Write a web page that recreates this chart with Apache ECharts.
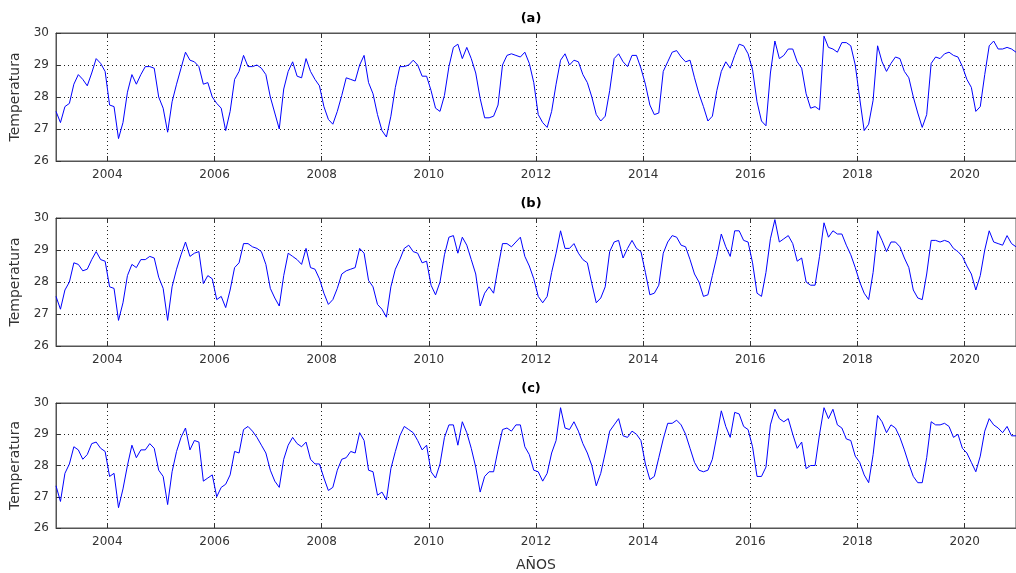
<!DOCTYPE html>
<html><head><meta charset="utf-8">
<script src="https://cdn.jsdelivr.net/npm/echarts@6/dist/echarts.min.js"></script>
<style>html,body{margin:0;padding:0;background:#fff}#c{width:1016px;height:573px}</style>
</head><body><div id="c"></div>
<script>
const startYear = 2003;
const panelTitles = ['(a)', '(b)', '(c)'];
const xTickYears = [2004, 2006, 2008, 2010, 2012, 2014, 2016, 2018, 2020];
const yTicks = [26, 27, 28, 29, 30];
const yLabel = 'Temperatura';
const xLabel = 'AÑOS';

const seriesA = [
27.55,27.2,27.7,27.8,28.4,28.7,28.55,28.35,28.75,29.2,29.05,28.8,
27.75,27.7,26.7,27.2,28.15,28.7,28.4,28.7,28.95,28.95,28.9,28.0,
27.65,26.9,27.85,28.4,28.9,29.4,29.15,29.1,28.95,28.4,28.45,28.0,
27.8,27.65,26.95,27.55,28.55,28.8,29.3,28.95,28.95,29.0,28.9,28.7,
28.0,27.5,27.0,28.25,28.8,29.1,28.65,28.6,29.2,28.8,28.55,28.35,
27.7,27.3,27.15,27.55,28.05,28.6,28.55,28.5,29.0,29.3,28.45,28.1,
27.45,26.95,26.75,27.4,28.3,28.95,28.95,29.0,29.15,29.0,28.65,28.65,
28.2,27.65,27.55,28.05,28.95,29.55,29.65,29.2,29.55,29.2,28.75,27.95,
27.35,27.35,27.4,27.75,29.0,29.3,29.35,29.3,29.25,29.4,29.05,28.45,
27.45,27.2,27.05,27.55,28.4,29.15,29.35,29.0,29.15,29.1,28.7,28.45,
28.0,27.45,27.25,27.4,28.2,29.2,29.35,29.1,28.95,29.3,29.3,28.9,
28.4,27.75,27.45,27.5,28.8,29.1,29.4,29.45,29.25,29.1,29.15,28.6,
28.1,27.7,27.25,27.4,28.2,28.8,29.1,28.9,29.3,29.65,29.6,29.35,
28.85,27.85,27.25,27.1,28.75,29.75,29.2,29.3,29.5,29.5,29.1,28.9,
28.1,27.65,27.7,27.6,29.9,29.55,29.5,29.4,29.7,29.7,29.6,29.0,
27.95,26.95,27.15,27.9,29.6,29.1,28.8,29.05,29.25,29.2,28.8,28.6,
28.0,27.5,27.05,27.45,29.05,29.25,29.2,29.35,29.4,29.3,29.25,28.95,
28.55,28.3,27.55,27.7,28.7,29.6,29.75,29.5,29.5,29.55,29.5,29.4
];
const seriesB = [
27.55,27.15,27.75,28.0,28.6,28.55,28.35,28.4,28.7,28.95,28.7,28.65,
27.85,27.8,26.8,27.35,28.2,28.55,28.45,28.7,28.7,28.8,28.75,28.15,
27.8,26.8,27.85,28.4,28.85,29.25,28.8,28.9,28.95,27.95,28.2,28.1,
27.45,27.55,27.2,27.75,28.45,28.6,29.2,29.2,29.1,29.05,28.95,28.55,
27.8,27.5,27.25,28.2,28.9,28.8,28.7,28.55,29.05,28.45,28.4,28.1,
27.65,27.3,27.45,27.8,28.25,28.35,28.4,28.45,29.05,28.9,28.05,27.85,
27.3,27.15,26.9,27.85,28.4,28.7,29.05,29.15,28.95,28.9,28.6,28.65,
27.9,27.6,28.0,28.85,29.4,29.45,28.9,29.4,29.15,28.7,28.25,27.25,
27.65,27.85,27.65,28.45,29.2,29.2,29.1,29.25,29.4,28.8,28.5,28.1,
27.55,27.35,27.55,28.3,28.9,29.6,29.05,29.05,29.2,28.9,28.7,28.6,
27.95,27.35,27.5,27.85,28.95,29.25,29.3,28.75,29.05,29.3,29.05,28.95,
28.3,27.6,27.65,27.9,28.9,29.25,29.45,29.4,29.15,29.1,28.7,28.25,
28.0,27.55,27.6,28.2,28.8,29.5,29.1,28.8,29.6,29.6,29.3,29.25,
28.6,27.65,27.55,28.3,29.35,29.95,29.25,29.35,29.45,29.2,28.65,28.75,
28.0,27.9,27.9,28.8,29.85,29.4,29.6,29.5,29.5,29.15,28.85,28.45,
28.0,27.65,27.45,28.3,29.6,29.3,28.95,29.25,29.25,29.1,28.75,28.45,
27.75,27.5,27.45,28.25,29.3,29.3,29.25,29.3,29.25,29.05,28.95,28.8,
28.5,28.25,27.75,28.2,29.0,29.6,29.25,29.2,29.15,29.45,29.2,29.1
];
const seriesC = [
27.35,26.85,27.75,28.05,28.6,28.5,28.2,28.35,28.7,28.75,28.55,28.45,
27.65,27.75,26.65,27.25,28.0,28.65,28.25,28.5,28.5,28.7,28.55,27.85,
27.65,26.75,27.8,28.45,28.9,29.2,28.5,28.8,28.75,27.5,27.6,27.7,
27.0,27.3,27.4,27.7,28.45,28.4,29.15,29.25,29.1,28.9,28.65,28.4,
27.85,27.5,27.3,28.2,28.65,28.9,28.7,28.6,28.75,28.2,28.05,28.05,
27.6,27.2,27.3,27.85,28.2,28.25,28.45,28.4,29.05,28.8,27.85,27.8,
27.05,27.15,26.9,27.9,28.45,28.95,29.25,29.15,29.05,28.8,28.5,28.65,
27.8,27.6,28.05,28.9,29.3,29.3,28.65,29.4,29.05,28.55,27.95,27.15,
27.65,27.8,27.8,28.5,29.15,29.2,29.1,29.3,29.3,28.6,28.35,27.85,
27.8,27.5,27.75,28.4,28.8,29.85,29.2,29.15,29.4,29.1,28.7,28.4,
28.0,27.35,27.75,28.4,29.1,29.3,29.5,28.95,28.9,29.1,29.0,28.8,
28.05,27.55,27.65,28.25,28.85,29.35,29.35,29.45,29.3,29.0,28.55,28.1,
27.85,27.8,27.85,28.2,28.95,29.75,29.25,28.9,29.7,29.65,29.25,29.15,
28.6,27.65,27.65,27.95,29.3,29.8,29.5,29.4,29.5,29.0,28.55,28.75,
27.9,28.0,28.0,29.0,29.85,29.5,29.8,29.3,29.2,28.85,28.8,28.3,
28.1,27.7,27.45,28.35,29.6,29.4,29.05,29.3,29.2,28.9,28.5,28.05,
27.65,27.45,27.45,28.25,29.4,29.3,29.3,29.35,29.25,28.9,29.0,28.55,
28.4,28.1,27.8,28.3,29.1,29.5,29.3,29.2,29.05,29.25,28.95,28.95
];

const panels = [seriesA, seriesB, seriesC];
const monthX = seriesA.map((_, i) => startYear + (i + 0.5) / 12);
const xMin = monthX[0];
const xMax = monthX[monthX.length - 1];

const FONT = 'DejaVu Sans';
const gridTops = [33, 218, 403];
const gridH = 128;
const gridLeft = 56;

const grids = gridTops.map(t => ({
  left: gridLeft, right: 0, top: t, height: gridH,
  show: true, borderColor: '#555', borderWidth: 1, backgroundColor: '#fff'
}));

const bottomX = gridTops.map((t, i) => ({
  gridIndex: i, type: 'value', min: xMin, max: xMax, position: 'bottom',
  axisLine: { show: true, onZero: false, lineStyle: { color: '#555', width: 1 } },
  axisTick: { show: true, inside: true, length: 5, customValues: xTickYears, lineStyle: { color: '#333' } },
  axisLabel: { customValues: xTickYears, formatter: v => String(Math.round(v)), color: '#333', fontSize: 12, fontFamily: FONT, margin: 8 },
  splitLine: { show: true, lineStyle: { type: [1, 3], color: '#222', width: 1 } },
  name: i === 2 ? xLabel : '', nameLocation: 'middle', nameGap: 30,
  nameTextStyle: { fontSize: 14, fontFamily: FONT, color: '#333' }
}));
const topX = gridTops.map((t, i) => ({
  gridIndex: i, type: 'value', min: xMin, max: xMax, position: 'top',
  axisLine: { show: true, onZero: false, lineStyle: { color: '#555', width: 1 } },
  axisTick: { show: true, inside: true, length: 5, customValues: xTickYears, lineStyle: { color: '#333' } },
  axisLabel: { show: false },
  splitLine: { show: false }
}));

const yAxes = gridTops.map((t, i) => ({
  gridIndex: i, type: 'value', min: yTicks[0], max: yTicks[yTicks.length - 1], interval: 1,
  axisLine: { show: true, onZero: false, lineStyle: { color: '#555', width: 1 } },
  axisTick: { show: true, inside: true, length: 5, lineStyle: { color: '#333' } },
  axisLabel: { color: '#333', fontSize: 12, fontFamily: FONT, margin: 7 },
  splitLine: { show: true, lineStyle: { type: [1, 3], color: '#222', width: 1 } },
  name: yLabel, nameLocation: 'middle', nameGap: 28, nameRotate: 90,
  nameTextStyle: { fontSize: 14, fontFamily: FONT, color: '#333' }
}));

const series = panels.map((arr, i) => ({
  type: 'line', xAxisIndex: i, yAxisIndex: i,
  data: arr.map((v, j) => [monthX[j], v]),
  showSymbol: false, symbol: 'none', clip: true,
  lineStyle: { color: '#0000ff', width: 1 }
}));

const graphic = panelTitles.map((t, i) => ({
  type: 'text', x: 531, y: gridTops[i] - 14,
  style: { text: t, textAlign: 'center', textVerticalAlign: 'middle', font: 'bold 13px "DejaVu Sans"', fill: '#000' }
}));

const chart = echarts.init(document.getElementById('c'), null, { renderer: 'canvas' });
chart.setOption({
  animation: false,
  backgroundColor: '#fff',
  grid: grids,
  xAxis: bottomX.concat(topX),
  yAxis: yAxes,
  series: series,
  graphic: graphic
});
</script>
</body></html>
